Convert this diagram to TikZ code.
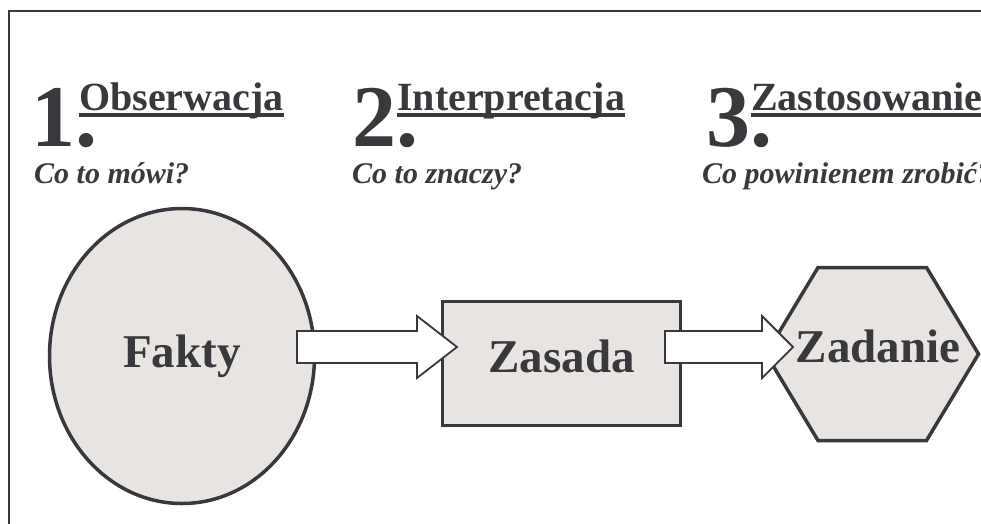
\documentclass[tikz,border=0pt]{standalone}
\usepackage{fontspec}
\setmainfont{Liberation Serif}
\usetikzlibrary{shapes.geometric,calc}
\definecolor{ink}{HTML}{38383D}
\definecolor{shade}{HTML}{E7E4E1}
\begin{document}
\begin{tikzpicture}[x={(1pt,0)},y={(0,-1pt)},
  num/.style={font=\fontsize{88}{88}\selectfont\bfseries, text=ink, inner sep=0pt, anchor=base west, text height=60pt, text depth=0pt},
  title/.style={font=\fontsize{40}{40}\selectfont\bfseries, text=ink, inner sep=0pt, anchor=base west},
  sub/.style={font=\fontsize{30}{30}\selectfont\bfseries\itshape, text=ink, inner sep=0pt, anchor=base west, text height=20pt},
  shapelabel/.style={font=\fontsize{47}{47}\selectfont\bfseries, text=ink, text depth=0pt},
  box/.style={draw=ink, fill=shade, line width=3.5pt},
  blockarrow/.style={draw=ink, fill=white, line width=1.8pt, line join=miter},
  uline/.style={draw=ink, line width=3.5pt}
]
\useasboundingbox (0,0) rectangle (981,523);
\draw[ink, line width=2.3pt] (9,530) -- (9,11) -- (990,11);

% shapes
\node[box, ellipse, minimum width=265pt, minimum height=295pt, inner sep=0pt, shapelabel, text height=22pt] (fakty) at (182,356) {Fakty};
\node[box, rectangle, minimum width=238pt, minimum height=124pt, inner sep=0pt, shapelabel, text height=17pt] (zasada) at (561.5,363.5) {Zasada};
\draw[box] (818,267.5) coordinate (h1) -- (926.5,267.5) coordinate (h2) -- (978.5,354) coordinate (h3)
  -- (926.5,440.5) coordinate (h4) -- (818,440.5) coordinate (h5) -- (766,354) coordinate (h6) -- cycle;
\node[shapelabel, inner sep=0pt, text height=16pt] (zadanie) at (878,354) {Zadanie};

% block arrows
\draw[blockarrow] (297,331) -- (417,331) -- (417,316) -- (457,347) -- (417,378) -- (417,363) -- (297,363) -- cycle;
\draw[blockarrow] (665,331) -- (762,331) -- (762,316) -- (793,347) -- (762,378) -- (762,363) -- (665,363) -- cycle;

% headings
\node[num] (n1) at (31,146) {1.};
\node[title] (t1) at (79,110) {Obserwacja};
\draw[uline] ($(t1.base west)+(0,5)$) -- ($(t1.base east)+(0,5)$);
\node[sub] (s1) at (34,183) {Co to mówi?};

\node[num] (n2) at (352,146) {2.};
\node[title] (t2) at (397,110) {Interpretacja};
\draw[uline] ($(t2.base west)+(0,5)$) -- ($(t2.base east)+(0,5)$);
\node[sub] (s2) at (352,183) {Co to znaczy?};

\node[num] (n3) at (706,146) {3.};
\node[title] (t3) at (751,110) {Zastosowanie};
\draw[uline] ($(t3.base west)+(0,5)$) -- ($(t3.base east)+(0,5)$);
\node[sub] (s3) at (702,183) {Co powinienem zrobić?};
\end{tikzpicture}
\end{document}
